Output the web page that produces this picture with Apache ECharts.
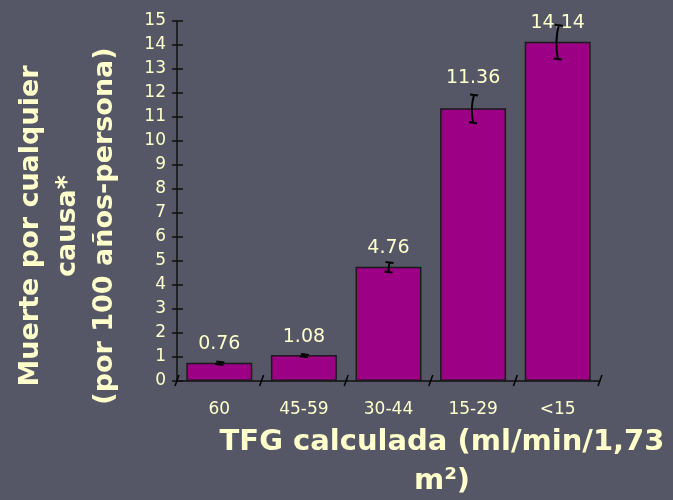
<!DOCTYPE html>
<html>
<head>
<meta charset="utf-8">
<script src="https://cdn.jsdelivr.net/npm/echarts@6/dist/echarts.min.js"></script>
<style>
  html, body { margin: 0; padding: 0; background: #555767; }
  #chart { width: 673px; height: 500px; }
</style>
</head>
<body>
<div id="chart"></div>
<script>
// GFR bands and all-cause death rate per 100 person-years
const categories = ['60', '45-59', '30-44', '15-29', '<15'];
const deathRate = [0.76, 1.08, 4.76, 11.36, 14.14];
const ciLow = [0.71, 1.03, 4.56, 10.78, 13.44];
const ciHigh = [0.81, 1.13, 4.96, 11.94, 14.84];
const yTicks = { min: 0, max: 15, step: 1 };

const textColor = '#FFFFCC';
const font = 'DejaVu Sans, Verdana, sans-serif';

const chart = echarts.init(document.getElementById('chart'), null, { renderer: 'canvas' });

// error bars: slightly bowed whisker with short caps
function renderError(params, api) {
  const i = api.value(0);
  const lo = api.coord([i, api.value(1)]);
  const hi = api.coord([i, api.value(2)]);
  const x = lo[0];
  const cap = 4;
  const bow = (lo[1] - hi[1]) > 12 ? -3 : 0;
  const style = { stroke: '#000', lineWidth: 2, fill: null };
  return {
    type: 'group',
    children: [
      { type: 'bezierCurve', shape: { x1: x + 1, y1: hi[1], x2: x, y2: lo[1], cpx1: x + bow, cpy1: (lo[1] + hi[1]) / 2 }, style },
      { type: 'line', shape: { x1: x - cap + 1, y1: hi[1], x2: x + cap + 1, y2: hi[1] + 1 }, style },
      { type: 'line', shape: { x1: x - cap, y1: lo[1], x2: x + cap, y2: lo[1] + 1 }, style }
    ]
  };
}

// short slanted marks at the category boundaries of the x axis
function renderBoundaryTick(params, api) {
  const c = api.coord([api.value(0), 0]);
  const half = api.size([1, 0])[0] / 2;
  const x = c[0] - half;
  return {
    type: 'line',
    shape: { x1: x - 2, y1: c[1] + 5, x2: x + 2, y2: c[1] - 6 },
    style: { stroke: '#000', lineWidth: 1.5 }
  };
}

const errorData = categories.map((c, i) => [i, ciLow[i], ciHigh[i]]);
// one mark per category edge, including the outer edges of the axis
const boundaryData = categories.concat(['']).map((c, i) => [i, 0]);

// value labels sit above the bar; the tall whisker of the fourth bar pushes its label higher
const barData = deathRate.map((v, i) => ({
  value: v,
  label: { distance: i === 3 ? 21 : 9 }
}));

chart.setOption({
  backgroundColor: '#555767',
  animation: false,
  grid: { left: 177, right: 73, top: 21, bottom: 119 },
  xAxis: {
    type: 'category',
    data: categories,
    axisLine: { lineStyle: { color: '#111', width: 1.5 } },
    axisTick: { show: false },
    axisLabel: { color: textColor, fontFamily: font, fontSize: 17, margin: 20 }
  },
  yAxis: [
    {
      type: 'value',
      min: yTicks.min, max: yTicks.max, interval: yTicks.step,
      axisLine: { show: true, lineStyle: { color: '#111', width: 1.5 } },
      axisTick: { show: true, length: 5, lineStyle: { color: '#111', width: 1.5 } },
      splitLine: { show: false },
      axisLabel: { color: textColor, fontFamily: font, fontSize: 17, margin: 11 }
    },
    {
      type: 'value',
      position: 'left',
      offset: 0,
      min: yTicks.min, max: yTicks.max, interval: yTicks.step,
      axisLine: { show: false },
      axisTick: { show: true, inside: true, length: 6, lineStyle: { color: '#111', width: 1.5 } },
      splitLine: { show: false },
      axisLabel: { show: false }
    }
  ],
  series: [
    {
      type: 'bar',
      data: barData,
      barCategoryGap: '22%',
      itemStyle: { color: '#9C0085', borderColor: '#1a1a1a', borderWidth: 1.5 },
      label: {
        show: true,
        position: 'top',
        color: textColor,
        fontFamily: font,
        fontSize: 19,
        formatter: p => p.value.toFixed(2)
      },
      z: 2
    },
    {
      type: 'custom',
      renderItem: renderError,
      data: errorData,
      encode: { x: 0, y: [1, 2] },
      z: 3
    },
    {
      type: 'custom',
      renderItem: renderBoundaryTick,
      data: boundaryData,
      encode: { x: 0, y: 1 },
      clip: false,
      z: 3
    }
  ],
  graphic: [
    {
      type: 'text',
      x: 68, y: 226,
      rotation: Math.PI / 2,
      style: {
        text: 'Muerte por cualquier\ncausa*\n(por 100 años-persona)',
        fill: textColor,
        font: 'bold 27px ' + font,
        align: 'center',
        verticalAlign: 'middle',
        lineHeight: 37
      }
    },
    {
      type: 'text',
      x: 442, y: 462,
      style: {
        text: 'TFG calculada (ml/min/1,73\nm²)',
        fill: textColor,
        font: 'bold 29px ' + font,
        align: 'center',
        verticalAlign: 'middle',
        lineHeight: 39
      }
    }
  ]
});
</script>
</body>
</html>
